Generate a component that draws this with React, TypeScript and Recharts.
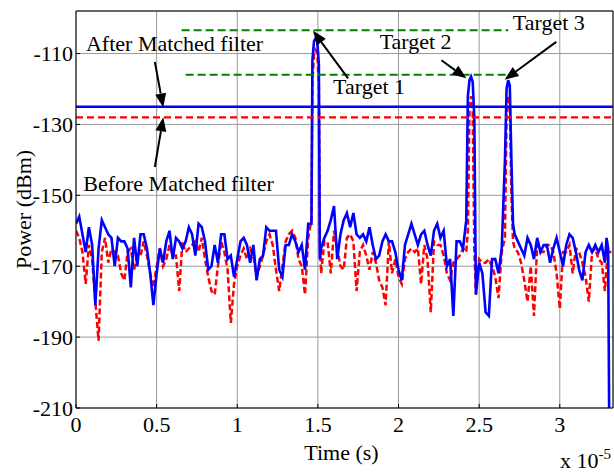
import React from 'react';
import {
  LineChart,
  Line,
  XAxis,
  YAxis,
  CartesianGrid,
  ReferenceLine,
  ReferenceDot,
} from 'recharts';

// time axis, in units of 1e-5 s
const time = [
  0.0, 0.02, 0.04, 0.06, 0.08, 0.1, 0.12, 0.14, 0.16, 0.18,
  0.2, 0.22, 0.24, 0.26, 0.28, 0.3, 0.32, 0.34, 0.36, 0.38,
  0.4, 0.42, 0.44, 0.46, 0.48, 0.5, 0.52, 0.54, 0.56, 0.58,
  0.6, 0.62, 0.64, 0.66, 0.68, 0.7, 0.72, 0.74, 0.76, 0.78,
  0.8, 0.82, 0.84, 0.86, 0.88, 0.9, 0.92, 0.94, 0.96, 0.98,
  1.0, 1.02, 1.04, 1.06, 1.08, 1.1, 1.12, 1.14, 1.16, 1.18,
  1.2, 1.22, 1.24, 1.26, 1.28, 1.3, 1.32, 1.34, 1.36, 1.38,
  1.4, 1.42, 1.44, 1.46, 1.466, 1.476, 1.486, 1.496, 1.506, 1.512,
  1.52, 1.54,
  1.56, 1.58, 1.6, 1.62, 1.64, 1.66, 1.68, 1.7, 1.72, 1.74,
  1.76, 1.78, 1.8, 1.82, 1.84, 1.86, 1.88, 1.9, 1.92, 1.94,
  1.96, 1.98, 2.0, 2.02, 2.04, 2.06, 2.08, 2.1, 2.12, 2.14,
  2.16, 2.18, 2.2, 2.22, 2.24, 2.26, 2.28, 2.3, 2.32, 2.34,
  2.36, 2.38, 2.4, 2.42, 2.43, 2.44, 2.45, 2.46, 2.47, 2.48,
  2.5, 2.52, 2.54, 2.56, 2.58, 2.6, 2.62, 2.64, 2.66, 2.67,
  2.68, 2.69, 2.7, 2.71, 2.72, 2.74, 2.76, 2.78, 2.8, 2.82,
  2.84, 2.86, 2.88, 2.9, 2.92, 2.94, 2.96, 2.98, 3.0, 3.02,
  3.04, 3.06, 3.08, 3.1, 3.12, 3.14, 3.16, 3.18, 3.2, 3.22,
  3.24, 3.26, 3.28, 3.29, 3.3, 3.31, 3.32,
];

// power after the matched filter (dBm), blue
const afterFilter = [
  -158, -156, -161, -166, -159, -164, -181, -165, -157, -159,
  -161, -162, -170, -162, -163, -163, -165, -176, -162, -170,
  -161, -161, -165, -172, -181, -172, -165, -169, -163, -160,
  -168, -162, -163, -165, -163, -159, -161, -167, -158, -159,
  -163, -171, -170, -164, -169, -161, -161, -168, -167, -173,
  -168, -163, -162, -164, -169, -164, -174, -168, -167, -159,
  -160, -160, -160, -171, -173, -164, -164, -161, -163, -166,
  -164, -171, -158, -158, -112, -106.5, -105.7, -106.5, -113, -168,
  -165, -162,
  -160, -157, -153, -168, -161, -157, -155, -159, -155, -161,
  -162, -161, -163, -159, -164, -168, -167, -163, -161, -163,
  -163, -166, -171, -174, -164, -161, -158, -161, -164, -161,
  -160, -164, -167, -160, -158, -162, -160, -170, -168, -184,
  -163, -163, -165, -157, -122, -117.5, -116.5, -118, -128, -178,
  -169, -172, -183, -184, -168, -168, -172, -165, -140, -120,
  -117.5, -119, -140, -158, -161, -163, -165, -167, -162, -164,
  -168, -162, -166, -164, -164, -169, -165, -162, -166, -170,
  -164, -161, -162, -166, -171, -174, -166, -164, -166, -164,
  -166, -164, -169, -162, -165, -240, null,
];

// power before the matched filter (dBm), red dashed
const beforeFilter = [
  -160, -162, -166, -175, -164, -168, -180, -191, -166, -162,
  -169, -165, -166, -167, -172, -174, -166, -165, -171, -167,
  -167, -163, -167, -172, -176, -170, -165, -170, -168, -164,
  -167, -167, -177, -163, -166, -165, -164, -163, -166, -162,
  -168, -173, -177, -178, -170, -163, -166, -171, -186, -175,
  -170, -167, -165, -168, -165, -167, -173, -170, -167, -163,
  -161, -164, -171, -177, -170, -163, -161, -160, -162, -168,
  -170, -178, -162, -157, -118, -110, -109, -110, -119, -164,
  -172, -163,
  -163, -172, -160, -165, -170, -171, -162, -161, -163, -177,
  -166, -164, -167, -171, -166, -169, -174, -176, -181, -163,
  -172, -168, -173, -175, -168, -166, -165, -166, -165, -175,
  -164, -168, -183, -163, -164, -164, -167, -172, -174, -169,
  -168, -167, -165, -166, -160, -126, -122, -126, -165, -178,
  -168, -169, -169, -168, -170, -173, -179, -166, -162, -128,
  -122, -124, -150, -163, -165, -166, -169, -174, -180, -170,
  -184, -164, -166, -166, -164, -164, -166, -172, -182, -166,
  -166, -164, -172, -165, -166, -169, -173, -180, -166, -165,
  -168, -169, -177, -170, -166, -166, -166,
];

const xTicks = [0, 0.5, 1, 1.5, 2, 2.5, 3];
const yTicks = [-210, -190, -170, -150, -130, -110];
const xDomain = [0, 3.33];
const yDomain = [-210, -98];

// horizontal threshold levels (dBm)
const afterLevel = -125;
const beforeLevel = -128;
// green dashed guide lines: [xStart, xEnd, level]
const guides = [
  [0.655, 2.68, -103.4],
  [0.68, 2.71, -116],
];

// annotation texts: [label, x, y(baseline)]
const notes: [string, number, number][] = [
  ['After Matched filter', 0.062, -109.4],
  ['Before Matched filter', 0.045, -148.8],
  ['Target 1', 1.594, -121.3],
  ['Target 2', 1.883, -108.6],
  ['Target 3', 2.709, -103.3],
];

// arrows: [xFrom, yFrom, xTip, yTip]
const arrows = [
  [0.489, -112.4, 0.541, -125.2],
  [0.489, -142.0, 0.541, -128.0],
  [1.687, -117.0, 1.47, -103.6],
  [2.266, -111.9, 2.421, -117.0],
  [2.978, -106.7, 2.658, -117.4],
];

const rows = time.map((t, i) => ({
  t,
  after: afterFilter[i],
  before: beforeFilter[i],
}));

const FONT = '"Liberation Serif", "Times New Roman", serif';

function Arrow(props: any) {
  const { x1, y1, x2, y2 } = props;
  const ang = Math.atan2(y2 - y1, x2 - x1);
  const len = 14;
  const half = 5.5;
  const bx = x2 - len * Math.cos(ang);
  const by = y2 - len * Math.sin(ang);
  const px = -Math.sin(ang) * half;
  const py = Math.cos(ang) * half;
  return (
    <g>
      <line x1={x1} y1={y1} x2={bx} y2={by} stroke="#000" strokeWidth={2} />
      <polygon
        points={`${x2},${y2} ${bx + px},${by + py} ${bx - px},${by - py}`}
        fill="#000"
      />
    </g>
  );
}

function XLabel(props: any) {
  const { x, y, width, height } = props.viewBox;
  return (
    <g fontFamily={FONT} fill="#000">
      <text x={x + width / 2 - 3} y={y + height - 13} fontSize={22} textAnchor="middle">
        Time (s)
      </text>
      <text x={x + width - 53} y={y + height - 5} fontSize={22}>
        x 10
        <tspan fontSize={15} dy={-9}>
          -5
        </tspan>
      </text>
    </g>
  );
}

function YLabel(props: any) {
  const { x, y, height } = props.viewBox;
  const cx = x + 31;
  const cy = y + height / 2;
  return (
    <text
      x={cx}
      y={cy}
      transform={`rotate(-90, ${cx}, ${cy})`}
      textAnchor="middle"
      fontFamily={FONT}
      fontSize={22}
      fill="#000"
    >
      Power (dBm)
    </text>
  );
}

export default function App() {
  const tickStyle = { fill: '#000', fontSize: 22, fontFamily: FONT };
  return (
    <div style={{ position: 'absolute', left: 0, top: 0, background: '#fff' }}>
      <LineChart
        width={614}
        height={473}
        data={rows}
        margin={{ top: 11, right: 1, bottom: 0, left: 0 }}
      >
        <CartesianGrid stroke="#9a9a9a" strokeWidth={1} />
        <XAxis
          dataKey="t"
          type="number"
          domain={xDomain}
          ticks={xTicks}
          allowDataOverflow
          interval={0}
          height={65}
          tickSize={-4}
          tickMargin={12}
          axisLine={{ stroke: '#000' }}
          tickLine={{ stroke: '#000' }}
          tick={tickStyle}
          label={<XLabel />}
        />
        <XAxis
          xAxisId="top"
          orientation="top"
          dataKey="t"
          type="number"
          domain={xDomain}
          ticks={xTicks}
          allowDataOverflow
          interval={0}
          height={1}
          mirror
          tick={false}
          tickSize={4}
          axisLine={{ stroke: '#000' }}
          tickLine={{ stroke: '#000' }}
        />
        <YAxis
          type="number"
          domain={yDomain}
          ticks={yTicks}
          allowDataOverflow
          interval={0}
          width={76}
          tickSize={-4}
          tickMargin={7}
          axisLine={{ stroke: '#000' }}
          tickLine={{ stroke: '#000' }}
          tick={tickStyle}
          label={<YLabel />}
        />
        <YAxis
          yAxisId="right"
          orientation="right"
          type="number"
          domain={yDomain}
          ticks={yTicks}
          allowDataOverflow
          interval={0}
          width={1}
          mirror
          tick={false}
          tickSize={4}
          axisLine={{ stroke: '#000' }}
          tickLine={{ stroke: '#000' }}
        />

        <Line
          type="linear"
          dataKey="before"
          stroke="#ff0000"
          strokeWidth={2.5}
          strokeDasharray="6 3"
          dot={false}
          activeDot={false}
          isAnimationActive={false}
        />
        <Line
          type="linear"
          dataKey="after"
          stroke="#0000ff"
          strokeWidth={2.6}
          dot={false}
          activeDot={false}
          isAnimationActive={false}
        />

        <ReferenceLine y={afterLevel} stroke="#0000ff" strokeWidth={2.4} />
        <ReferenceLine
          y={beforeLevel}
          stroke="#ff0000"
          strokeWidth={2.2}
          strokeDasharray="7 4"
        />
        {guides.map(([x0, x1, lv], i) => (
          <ReferenceLine
            key={`g${i}`}
            segment={[
              { x: x0, y: lv },
              { x: x1, y: lv },
            ]}
            stroke="#008000"
            strokeWidth={2}
            strokeDasharray="8 4"
          />
        ))}
        {arrows.map(([xa, ya, xb, yb], i) => (
          <ReferenceLine
            key={`a${i}`}
            segment={[
              { x: xa, y: ya },
              { x: xb, y: yb },
            ]}
            shape={Arrow}
          />
        ))}
        {notes.map(([label, x, y], i) => (
          <ReferenceDot
            key={`n${i}`}
            x={x}
            y={y}
            r={0}
            shape={(p: any) => (
              <text x={p.cx} y={p.cy} fontFamily={FONT} fontSize={22} fill="#000">
                {label}
              </text>
            )}
          />
        ))}
      </LineChart>
    </div>
  );
}
